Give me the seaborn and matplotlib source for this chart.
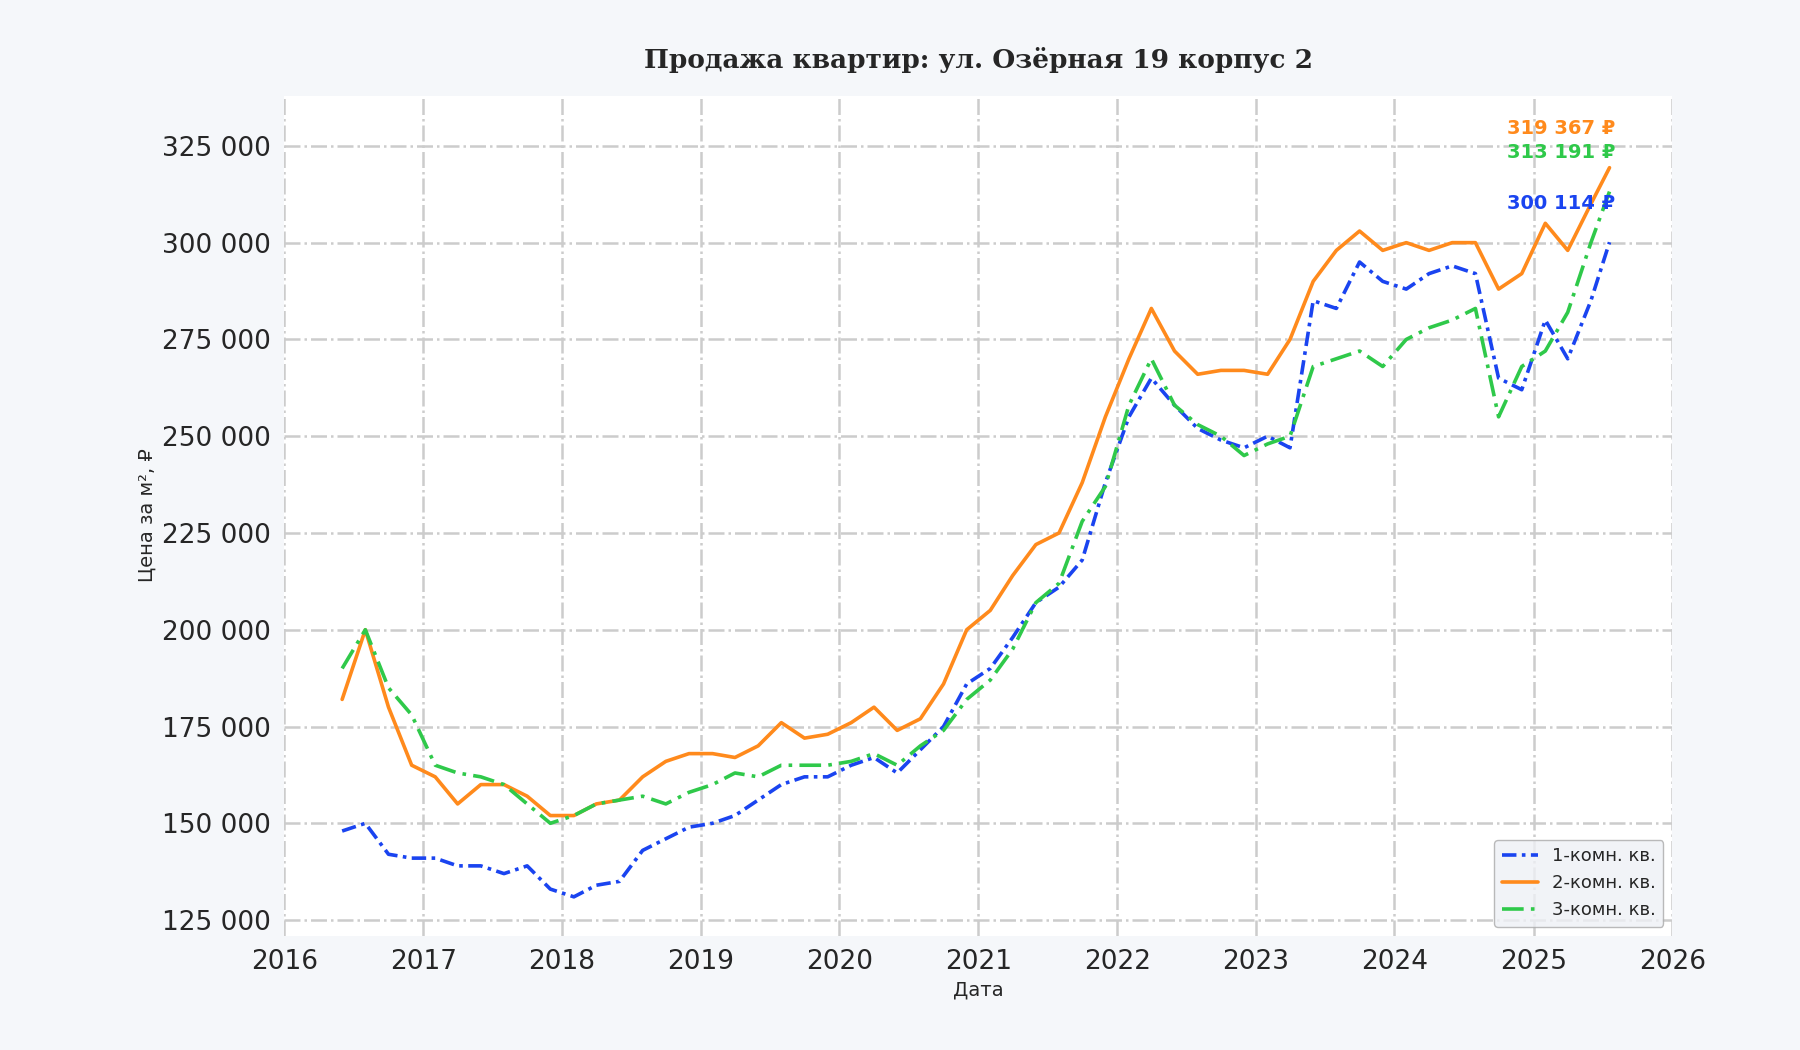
import pandas as pd
import matplotlib.pyplot as plt
import matplotlib.dates as mdates
import matplotlib.ticker as mticker
import seaborn as sns

# данные, тыс. руб. за м² (через ~2 месяца)
dates = ["2016-06-01", "2016-08-01", "2016-10-01", "2016-12-01", "2017-02-01", "2017-04-01",
         "2017-06-01", "2017-08-01", "2017-10-01", "2017-12-01", "2018-02-01", "2018-04-01",
         "2018-06-01", "2018-08-01", "2018-10-01", "2018-12-01", "2019-02-01", "2019-04-01",
         "2019-06-01", "2019-08-01", "2019-10-01", "2019-12-01", "2020-02-01", "2020-04-01",
         "2020-06-01", "2020-08-01", "2020-10-01", "2020-12-01", "2021-02-01", "2021-04-01",
         "2021-06-01", "2021-08-01", "2021-10-01", "2021-12-01", "2022-02-01", "2022-04-01",
         "2022-06-01", "2022-08-01", "2022-10-01", "2022-12-01", "2023-02-01", "2023-04-01",
         "2023-06-01", "2023-08-01", "2023-10-01", "2023-12-01", "2024-02-01", "2024-04-01",
         "2024-06-01", "2024-08-01", "2024-10-01", "2024-12-01", "2025-02-01", "2025-04-01",
         "2025-06-01", "2025-07-20"]
room1 = [148, 150, 142, 141, 141, 139, 139, 137, 139, 133, 131, 134, 135, 143, 146, 149,
         150, 152, 156, 160, 162, 162, 165, 167, 163, 169, 175, 186, 190, 198, 207, 211,
         218, 238, 255, 265, 258, 252, 249, 247, 250, 247, 285, 283, 295, 290, 288, 292,
         294, 292, 265, 262, 280, 270, 285, 300.114]
room2 = [182, 200, 180, 165, 162, 155, 160, 160, 157, 152, 152, 155, 156, 162, 166, 168,
         168, 167, 170, 176, 172, 173, 176, 180, 174, 177, 186, 200, 205, 214, 222, 225,
         238, 255, 270, 283, 272, 266, 267, 267, 266, 275, 290, 298, 303, 298, 300, 298,
         300, 300, 288, 292, 305, 298, 310, 319.367]
room3 = [190, 200, 185, 178, 165, 163, 162, 160, 155, 150, 152, 155, 156, 157, 155, 158,
         160, 163, 162, 165, 165, 165, 166, 168, 165, 170, 174, 182, 187, 195, 207, 212,
         228, 237, 258, 270, 258, 253, 250, 245, 248, 250, 268, 270, 272, 268, 275, 278,
         280, 283, 255, 268, 272, 282, 300, 313.191]

series = {"1-комн. кв.": (room1, "#1a44f0", (0, (4, 1.5, 1, 1.5))),
          "2-комн. кв.": (room2, "#ff8a1c", "-"),
          "3-комн. кв.": (room3, "#2fc94a", (0, (6, 2, 1, 2)))}

sns.set_theme(style="whitegrid")
plt.rcParams['font.family'] = ['DejaVu Sans']

fig = plt.figure(figsize=(18, 10.5), dpi=100, facecolor="#f5f7fa")
ax = fig.add_axes([0.158, 0.109, 0.771, 0.8])
ax.set_facecolor("white")

x = pd.to_datetime(dates)
for name, (vals, color, ls) in series.items():
    y = [v * 1000 for v in vals]
    sns.lineplot(x=x, y=y, ax=ax, color=color, linestyle=ls, linewidth=2.6, label=name)
    ax.text(x[-1] + pd.Timedelta(days=15), y[-1] + 10000, f"{y[-1]:,.0f} ₽".replace(",", " "),
            color=color, fontsize=14, fontweight="bold", ha="right", va="center")

ax.set_ylim(121000, 338000)
ax.set_xlim(pd.Timestamp("2016-01-01"), pd.Timestamp("2026-01-01"))
ax.xaxis.set_major_locator(mdates.YearLocator())
ax.xaxis.set_major_formatter(mdates.DateFormatter("%Y"))
ax.yaxis.set_major_locator(mticker.MultipleLocator(25000))
ax.yaxis.set_major_formatter(mticker.FuncFormatter(lambda v, p: f"{v:,.0f}".replace(",", " ")))
ax.tick_params(labelsize=19)
ax.grid(True, color="#cccccc", linestyle="-.", linewidth=1.8)
for s in ax.spines.values():
    s.set_visible(False)

ax.set_title("Продажа квартир: ул. Озёрная 19 корпус 2", fontsize=19, fontweight="bold",
             family="DejaVu Serif", pad=20)
ax.set_xlabel("Дата", fontsize=14)
ax.set_ylabel("Цена за м², ₽", fontsize=14)
leg = ax.legend(loc="lower right", fontsize=13, frameon=True, facecolor="#eef0f5",
                edgecolor="#aaaaaa")
plt.savefig("out.png", dpi=100, facecolor=fig.get_facecolor())
